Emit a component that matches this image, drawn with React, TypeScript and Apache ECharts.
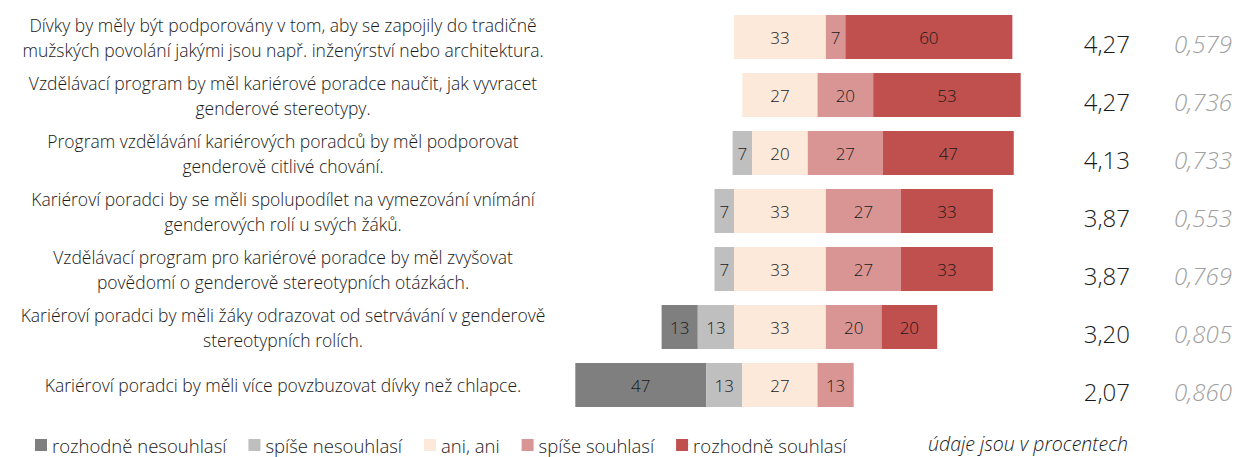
import React, { useEffect, useRef } from "react";
import * as echarts from "echarts";

const statements = [
  "Dívky by měly být podporovány v tom, aby se zapojily do tradičně\nmužských povolání jakými jsou např. inženýrství nebo architektura.",
  "Vzdělávací program by měl kariérové poradce naučit, jak vyvracet\ngenderové stereotypy.",
  "Program vzdělávání kariérových poradců by měl podporovat\ngenderově citlivé chování.",
  "Kariéroví poradci by se měli spolupodílet na vymezování vnímání\ngenderových rolí u svých žáků.",
  "Vzdělávací program pro kariérové poradce by měl zvyšovat\npovědomí o genderově stereotypních otázkách.",
  "Kariéroví poradci by měli žáky odrazovat od setrvávání v genderově\nstereotypních rolích.",
  "Kariéroví poradci by měli více povzbuzovat dívky než chlapce.",
];

const rozhodneNesouhlasi = [0, 0, 0, 0, 0, 13, 47];
const spiseNesouhlasi = [0, 0, 7, 7, 7, 13, 13];
const aniAni = [33, 27, 20, 33, 33, 33, 27];
const spiseSouhlasi = [7, 20, 27, 27, 27, 20, 13];
const rozhodneSouhlasi = [60, 53, 47, 33, 33, 20, 0];

const means = ["4,27", "4,27", "4,13", "3,87", "3,87", "3,20", "2,07"];
const stdDevs = ["0,579", "0,736", "0,733", "0,553", "0,769", "0,805", "0,860"];

const seriesNames = [
  "rozhodně nesouhlasí",
  "spíše nesouhlasí",
  "ani, ani",
  "spíše souhlasí",
  "rozhodně souhlasí",
];
const colors = ["#7f7f7f", "#bfbfbf", "#fce9da", "#d99594", "#c0504d"];

const CENTER = 79;
const FONT = "Open Sans";

export default function App() {
  const ref = useRef<HTMLDivElement>(null);
  useEffect(() => {
    if (!ref.current) return;
    const chart = echarts.init(ref.current, undefined, { renderer: "svg" });
    const offsets = statements.map(
      (_, i) => CENTER - (rozhodneNesouhlasi[i] + spiseNesouhlasi[i] + aniAni[i] / 2)
    );
    const valueSets = [rozhodneNesouhlasi, spiseNesouhlasi, aniAni, spiseSouhlasi, rozhodneSouhlasi];
    const barSeries = valueSets.map((vals, k) => ({
      name: seriesNames[k],
      type: "bar",
      stack: "s",
      barWidth: 44,
      data: vals,
      itemStyle: { color: colors[k] },
      label: {
        show: true,
        position: "inside",
        color: "#1a1a1a",
        fontFamily: FONT,
        fontSize: 17,
        fontWeight: 300,
        formatter: (p: any) => (p.value > 0 ? String(p.value) : ""),
      },
    }));
    chart.setOption({
      animation: false,
      textStyle: { fontFamily: FONT },
      grid: { left: 560, right: 160, top: 8, bottom: 43 },
      legend: {
        data: seriesNames,
        left: 30,
        top: 429,
        icon: "rect",
        itemWidth: 12,
        itemHeight: 12,
        itemGap: 22,
        textStyle: {
          fontFamily: FONT,
          fontSize: 18.5,
          fontWeight: 300,
          lineHeight: 22,
          color: "#1a1a1a",
        },
      },
      xAxis: {
        type: "value",
        min: 0,
        max: 185,
        show: false,
      },
      yAxis: [
        {
          type: "category",
          data: statements,
          inverse: true,
          offset: 7,
          axisLine: { show: false },
          axisTick: { show: false },
          axisLabel: {
            margin: 0,
            formatter: (v: string) =>
              v
                .split("\n")
                .map((l) => `{a|${l}}`)
                .join("\n"),
            rich: {
              a: {
                width: 540,
                align: "center",
                fontFamily: FONT,
                fontSize: 17.5,
                fontWeight: 300,
                lineHeight: 25,
                color: "#1a1a1a",
              },
            },
          },
        },
        {
          type: "category",
          data: statements,
          inverse: true,
          position: "right",
          axisLine: { show: false },
          axisTick: { show: false },
          axisLabel: {
            margin: 5,
            align: "left",
            formatter: (_v: string, i: number) => `{m|${means[i]}}{s|${stdDevs[i]}}`,
            rich: {
              m: {
                width: 50,
                align: "right",
                fontFamily: FONT,
                fontSize: 24,
                fontWeight: 300,
                color: "#1a1a1a",
                padding: [12, 0, 0, 0],
              },
              s: {
                width: 102,
                align: "right",
                fontFamily: FONT,
                fontSize: 24,
                fontWeight: 300,
                fontStyle: "italic",
                color: "#a0a0a0",
                padding: [12, 0, 0, 0],
              },
            },
          },
        },
      ],
      series: [
        {
          name: "offset",
          type: "bar",
          stack: "s",
          barWidth: 44,
          data: offsets,
          itemStyle: { color: "rgba(0,0,0,0)" },
          label: { show: false },
          silent: true,
        },
        ...barSeries,
      ],
      graphic: [
        {
          type: "text",
          left: 928,
          top: 432,
          style: {
            text: "údaje jsou v procentech",
            fontFamily: FONT,
            fontSize: 19.5,
            lineHeight: 22,
            fontWeight: 300,
            fontStyle: "italic",
            fill: "#1a1a1a",
          },
        },
      ],
    });
    return () => chart.dispose();
  }, []);
  return <div ref={ref} style={{ width: 1235, height: 457, position: "absolute", left: 0, top: 0 }} />;
}
